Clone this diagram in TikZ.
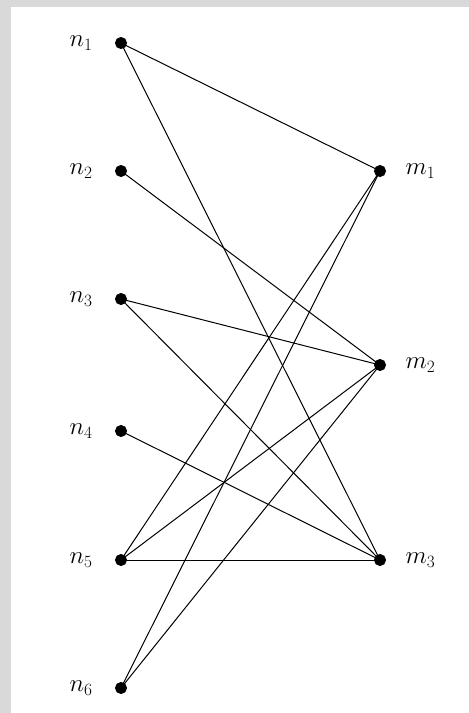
\documentclass[tikz,border=0pt]{standalone}
\usepackage{amsmath, amsfonts, amssymb}
\usepackage{tikz}
\usetikzlibrary{positioning}
\usetikzlibrary{calc}

\begin{document}
\begin{tikzpicture}[x=1pt, y=-1pt, line width=1pt,
    every node/.style={circle, draw, fill=black, inner sep=0pt, minimum size=11pt},
    every label/.style={draw=none, fill=none, rectangle, minimum size=0pt, inner sep=2pt, font=\fontsize{24}{29}\selectfont}]
          % frame
          \useasboundingbox (0, 0) rectangle (469, 713);
          \fill[gray!30, draw=none] (0, 0) rectangle (469, 7);
          \fill[gray!30, draw=none] (0, 0) rectangle (11, 713);

          \node[label={[label distance=20pt]left:{$n_1$}}] (n1) at (121, 43) {};
          \node[label={[label distance=20pt]left:{$n_2$}}] (n2) at (121, 171) {};
          \node[label={[label distance=20pt]left:{$n_3$}}] (n3) at (121, 299) {};
          \node[label={[label distance=20pt]left:{$n_4$}}] (n4) at (121, 431) {};
          \node[label={[label distance=20pt]left:{$n_5$}}] (n5) at (121, 560) {};
          \node[label={[label distance=20pt]left:{$n_6$}}] (n6) at (121, 688) {};

          \node[label={[label distance=17pt]right:{$m_1$}}] (m1) at (380, 171) {};
          \node[label={[label distance=17pt]right:{$m_2$}}] (m2) at (380, 365) {};
          \node[label={[label distance=17pt]right:{$m_3$}}] (m3) at (380, 560) {};

          \draw (n1.center) -- (m1.center);
          \draw (n1.center) -- (m3.center);
          \draw (n2.center) -- (m2.center);
          \draw (n3.center) -- (m2.center);
          \draw (n3.center) -- (m3.center);
          \draw (n4.center) -- (m3.center);
          \draw (n5.center) -- (m1.center);
          \draw (n5.center) -- (m2.center);
          \draw (n5.center) -- (m3.center);
          \draw (n6.center) -- (m1.center);
          \draw (n6.center) -- (m2.center);
        \end{tikzpicture}
\end{document}
